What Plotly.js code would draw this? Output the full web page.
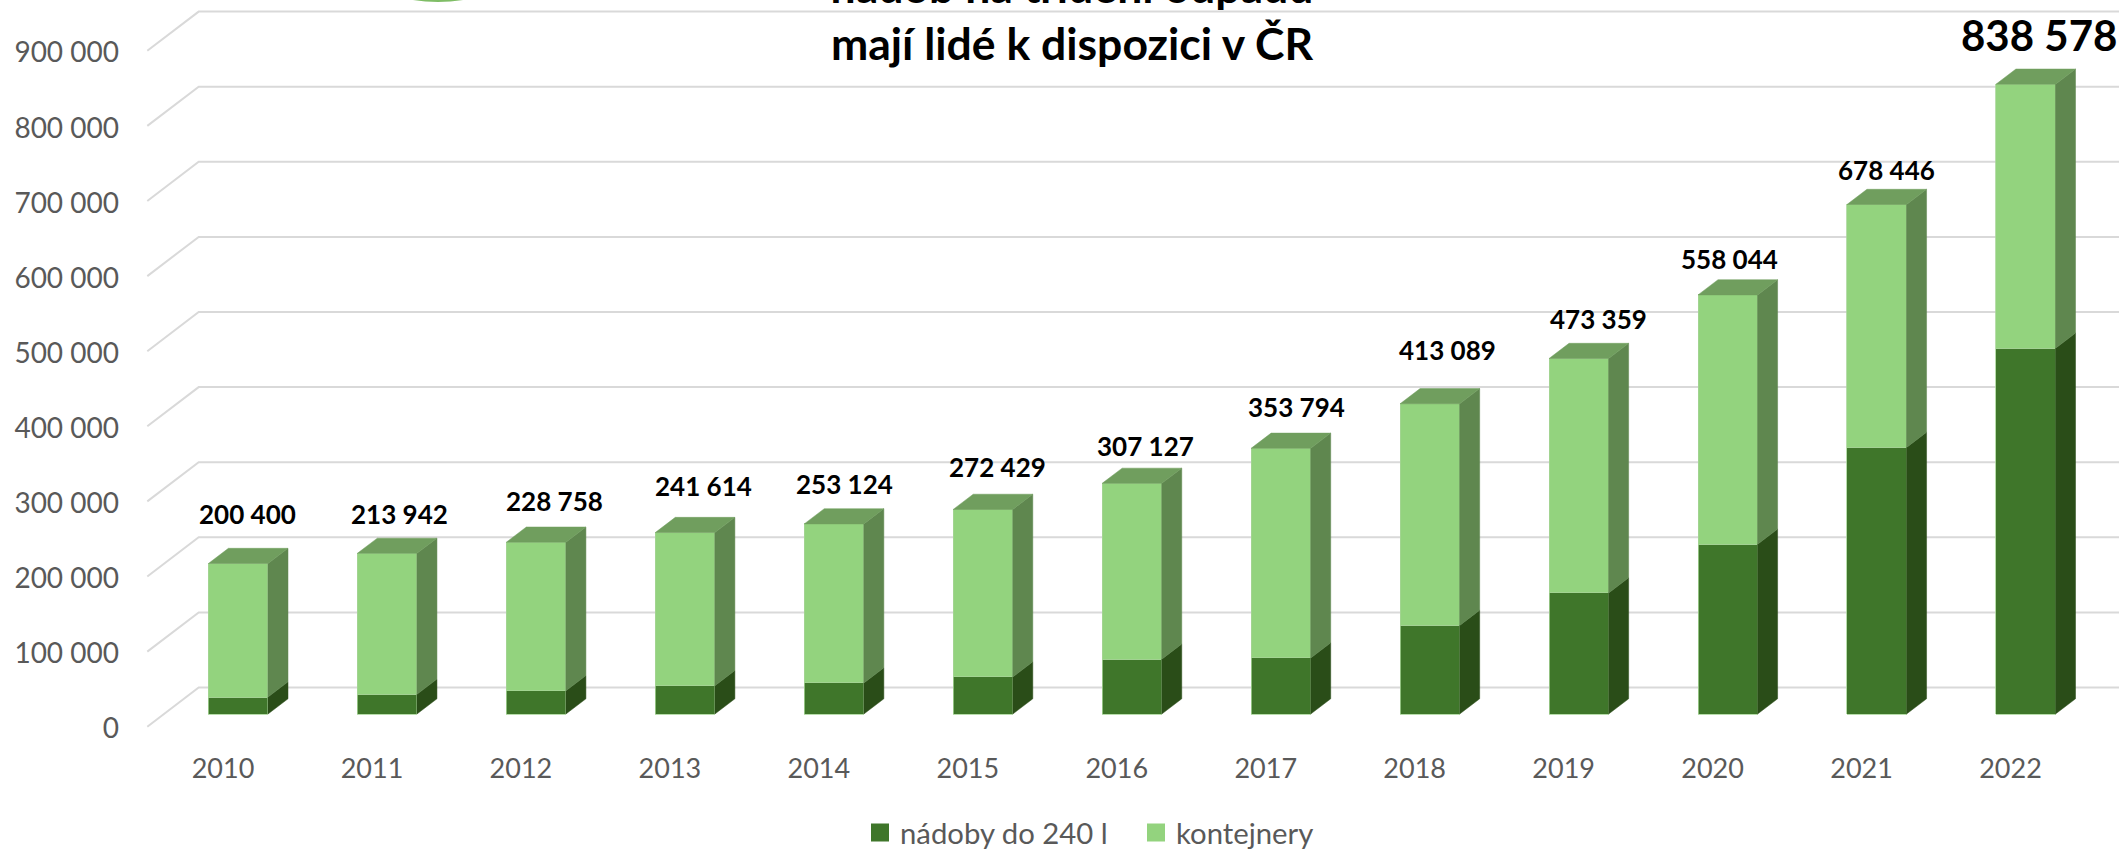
<!DOCTYPE html>
<html lang="cs">
<head>
<meta charset="utf-8">
<title>Nádoby na třídění odpadu</title>
<script src="https://cdn.plot.ly/plotly-3.0.1.min.js"></script>
<style>html,body{margin:0;padding:0;background:#fff;overflow:hidden}</style>
</head>
<body>
<div id="chart" style="width:2119px;height:849px"></div>
<script>
// ---- data ----
const years = ['2010','2011','2012','2013','2014','2015','2016','2017','2018','2019','2020','2021','2022'];
const nadoby = [22600,26200,31000,37700,41300,49300,73000,74600,118000,161200,226000,355000,487000];
const kontejnery = [177800,187742,197758,203914,211824,223129,234127,279194,295089,312159,332044,323446,351578];
const totalLabels = ['200 400','213 942','228 758','241 614','253 124','272 429','307 127','353 794','413 089','473 359','558 044','678 446','838 578'];
const yTickValues = [0,100000,200000,300000,400000,500000,600000,700000,800000,900000];
const yTickLabels = ['0','100 000','200 000','300 000','400 000','500 000','600 000','700 000','800 000','900 000'];

// ---- label placement offsets from the top-front of each bar (px) ----
const labelShiftX = [8.8,12.8,18,18.3,10.6,14.7,14,15.8,17.2,19.3,2,9.8,13.2];
const labelLift = [49.6,39.4,41.3,46.9,39.7,42.8,37.7,41.7,53.9,39.6,36.1,34.7,48.8];
const labelSize = [26,26,26,26,26,26,26,26,26,26,26,26,42];

// ---- projection geometry of the fake 3-D chart (px) ----
const W = 2119, H = 849, plotH = 750;
const pxPerValue = 0.751 / 1000;
const pxPerYear = 148.96;
const backLeft = 198.7, frontLeft = 147.3;
const barCentre0 = 238.2, tickCentre0 = 223;
const zeroBars = 714, zeroBack = 687.5, zeroFront = 726.7, zeroTickLabels = 728.5;
const barWidth = 0.4, depthX = 20 / pxPerYear, depthY = 15.2 / pxPerValue;

const GREEN_DARK = '#3f762a', GREEN_LIGHT = '#93d37e';
const SIDE_DARK = '#2a4d18', SIDE_LIGHT = '#5f874f', TOP_LIGHT = '#709e5e';
const EDGE = '#a6d596', GRID = '#d9d9d9', TEXT = '#595959';
const FONT = 'Lato, "Open Sans", sans-serif';

const yRange = zero => [(zero - plotH) / pxPerValue, zero / pxPerValue];
const xRange = c0 => [-c0 / pxPerYear, (W - c0) / pxPerYear];
const idx = years.map((_, i) => i);
const totals = idx.map(i => nadoby[i] + kontejnery[i]);

function polygons(lows, highs, kind) {
  const xs = [], ys = [];
  idx.forEach(i => {
    const r = i + barWidth / 2, l = i - barWidth / 2;
    if (kind === 'side') {
      xs.push(r, r + depthX, r + depthX, r, r, null);
      ys.push(lows[i], lows[i] + depthY, highs[i] + depthY, highs[i], lows[i], null);
    } else {
      xs.push(l, l + depthX, r + depthX, r, l, null);
      ys.push(highs[i], highs[i] + depthY, highs[i] + depthY, highs[i], highs[i], null);
    }
  });
  return {x: xs, y: ys};
}
function face(poly, color) {
  return {type: 'scatter', mode: 'lines', x: poly.x, y: poly.y, xaxis: 'x', yaxis: 'y3',
    fill: 'toself', fillcolor: color, line: {color: color, width: 0.5},
    hoverinfo: 'skip', showlegend: false, connectgaps: false};
}

// gridlines: oblique left end on the floor/wall edge, then along the back wall
const gridX = [], gridY = [];
const xFront = (frontLeft - barCentre0) / pxPerYear;
const xBack = (backLeft - barCentre0) / pxPerYear;
const xEnd = (W - barCentre0) / pxPerYear;
yTickValues.forEach(v => {
  gridX.push(xFront, xBack, xEnd, null);
  gridY.push(v - (zeroFront - zeroBack) / pxPerValue, v, v, null);
});

const zeros = idx.map(() => 0);
const traces = [
  {type: 'scatter', mode: 'lines', x: gridX, y: gridY, xaxis: 'x', yaxis: 'y',
   line: {color: GRID, width: 2}, hoverinfo: 'skip', showlegend: false},
  {type: 'bar', name: 'nádoby do 240 l', x: idx, y: nadoby, width: barWidth, xaxis: 'x', yaxis: 'y3',
   marker: {color: GREEN_DARK, line: {color: EDGE, width: 0.8}}, showlegend: false},
  {type: 'bar', name: 'kontejnery', x: idx, y: kontejnery, width: barWidth, xaxis: 'x', yaxis: 'y3',
   marker: {color: GREEN_LIGHT, line: {color: EDGE, width: 0.8}}, showlegend: false},
  face(polygons(zeros, nadoby, 'side'), SIDE_DARK),
  face(polygons(nadoby, totals, 'side'), SIDE_LIGHT),
  face(polygons(totals, totals, 'top'), TOP_LIGHT),
  {type: 'scatter', mode: 'markers', name: 'nádoby do 240 l', x: [null], y: [null], xaxis: 'x2', yaxis: 'y2',
   marker: {symbol: 'square', size: 16, color: GREEN_DARK, line: {color: GREEN_DARK, width: 2}}, hoverinfo: 'skip'},
  {type: 'scatter', mode: 'markers', name: 'kontejnery', x: [null], y: [null], xaxis: 'x2', yaxis: 'y2',
   marker: {symbol: 'square', size: 16, color: GREEN_LIGHT, line: {color: GREEN_LIGHT, width: 2}}, hoverinfo: 'skip'}
];

const annotations = idx.map(i => ({
  xref: 'x', yref: 'y3', x: i, y: totals[i], text: totalLabels[i], showarrow: false,
  xanchor: 'center', yanchor: 'middle', xshift: labelShiftX[i], yshift: labelLift[i],
  font: {family: FONT, size: labelSize[i], color: '#000', weight: 700}
}));

const layout = {
  width: W, height: H,
  paper_bgcolor: '#fff', plot_bgcolor: '#fff',
  margin: {l: 0, r: 0, t: 0, b: H - plotH, pad: 0, autoexpand: false},
  barmode: 'stack',
  showlegend: true,
  hovermode: false,
  title: {
    text: 'nádob na třídění odpadu<br>mají lidé k dispozici v ČR',
    x: 1072 / W, xanchor: 'center', xref: 'paper',
    y: 1 - 2.5 / H, yanchor: 'bottom', yref: 'container',
    font: {family: FONT, size: 44.5, color: '#000', weight: 700}
  },
  legend: {
    orientation: 'h', traceorder: 'normal', x: 860 / W, xanchor: 'left',
    yref: 'container', y: 1 - 807 / H, yanchor: 'top',
    entrywidth: 231, entrywidthmode: 'pixels',
    font: {family: FONT, size: 29.3, color: TEXT}, bgcolor: 'rgba(0,0,0,0)', itemclick: false, itemdoubleclick: false
  },
  xaxis: {domain: [0, 1], range: xRange(barCentre0), type: 'linear', anchor: 'y',
    showgrid: false, zeroline: false, showticklabels: false, ticks: ''},
  xaxis2: {overlaying: 'x', domain: [0, 1], range: xRange(tickCentre0), type: 'linear', anchor: 'y',
    tickmode: 'array', tickvals: idx, ticktext: years, showgrid: false, zeroline: false, ticks: '',
    tickfont: {family: FONT, size: 27, color: TEXT}, side: 'bottom'},
  yaxis: {range: yRange(zeroBack), showticklabels: false,
    showgrid: false, zeroline: false, ticks: '', anchor: 'x'},
  yaxis2: {overlaying: 'y', range: yRange(zeroTickLabels), tickmode: 'array', tickvals: yTickValues, ticktext: yTickLabels,
    anchor: 'free', position: 119 / W, side: 'left', showgrid: false, zeroline: false, ticks: '',
    tickfont: {family: FONT, size: 28, color: TEXT}},
  yaxis3: {overlaying: 'y', range: yRange(zeroBars), showticklabels: false, showgrid: false, zeroline: false,
    ticks: '', anchor: 'x'},
  annotations: annotations,
  shapes: [{type: 'circle', xref: 'paper', yref: 'paper', layer: 'above',
    x0: (438 - 157) / W, x1: (438 + 157) / W, y0: 1 + 310 / plotH, y1: 1 - 2 / plotH,
    fillcolor: '#7fbd66', line: {width: 0}}]
};

Plotly.newPlot('chart', traces, layout, {displayModeBar: false, staticPlot: true});
</script>
</body>
</html>
